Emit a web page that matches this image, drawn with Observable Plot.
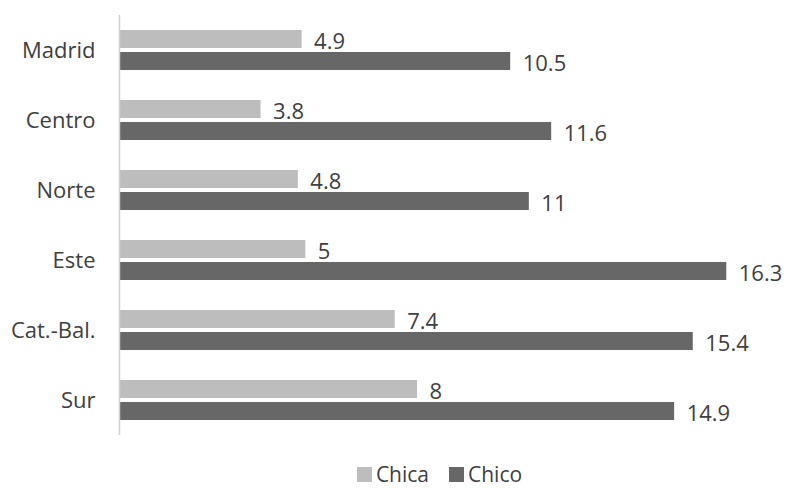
<!DOCTYPE html>
<html>
<head>
<meta charset="utf-8">
<script src="https://cdn.jsdelivr.net/npm/d3@7"></script>
<script src="https://cdn.jsdelivr.net/npm/@observablehq/plot@0.6"></script>
<style>
  html, body { margin: 0; padding: 0; background: #fff; }
  #chart { width: 787px; font-family: "Open Sans", sans-serif; color: #404040; }
  #legend { display: flex; justify-content: center; align-items: center; gap: 20px; height: 28px; font-size: 21px; color: #404040; padding-left: 92px; }
  #legend .item { display: flex; align-items: center; gap: 4px; }
  #legend .sw { width: 15px; height: 15px; display: inline-block; }
</style>
</head>
<body>
<div id="chart"></div>
<script>
// Regions, top to bottom
const regions = ["Madrid", "Centro", "Norte", "Este", "Cat.-Bal.", "Sur"];
// Series and their values per region
const series = ["Chica", "Chico"];
const chica = [4.9, 3.8, 4.8, 5, 7.4, 8];
const chico = [10.5, 11.6, 11, 16.3, 15.4, 14.9];
const colors = ["#bdbdbd", "#676767"];

const rows = regions.flatMap((region, i) => [
  {region, sex: series[0], value: chica[i]},
  {region, sex: series[1], value: chico[i]}
]);

const textColor = "#404040";

const plot = Plot.plot({
  width: 787,
  height: 460,
  marginLeft: 119,
  marginRight: 16,
  marginTop: 13,
  marginBottom: 24,
  style: {fontFamily: "'Open Sans', sans-serif", fontSize: "22px", color: textColor, background: "#fff"},
  x: {domain: [0, 17.5], axis: null},
  y: {domain: series, axis: null, paddingInner: 0.18, paddingOuter: 0.62},
  fy: {domain: regions, padding: 0, label: null},
  color: {domain: series, range: colors},
  marks: [
    Plot.axisFy({anchor: "left", tickSize: 0, tickPadding: 24, fontSize: 22, fill: textColor, label: null}),
    Plot.barX(rows, {x: "value", y: "sex", fy: "region", fill: "sex"}),
    Plot.text(rows, {
      x: "value", y: "sex", fy: "region",
      text: d => String(d.value),
      textAnchor: "start", dx: 12, dy: 2,
      fontSize: 22, fill: textColor
    }),
    Plot.ruleX([0], {stroke: "#d0d0d0", strokeWidth: 1.5})
  ]
});

const chart = document.getElementById("chart");
chart.appendChild(plot);

// Legend below the plot, built from the same series and colours
const legend = document.createElement("div");
legend.id = "legend";
series.forEach((s, i) => {
  const item = document.createElement("span");
  item.className = "item";
  const sw = document.createElement("span");
  sw.className = "sw";
  sw.style.background = colors[i];
  const label = document.createElement("span");
  label.textContent = s;
  item.appendChild(sw);
  item.appendChild(label);
  legend.appendChild(item);
});
chart.appendChild(legend);
</script>
</body>
</html>
